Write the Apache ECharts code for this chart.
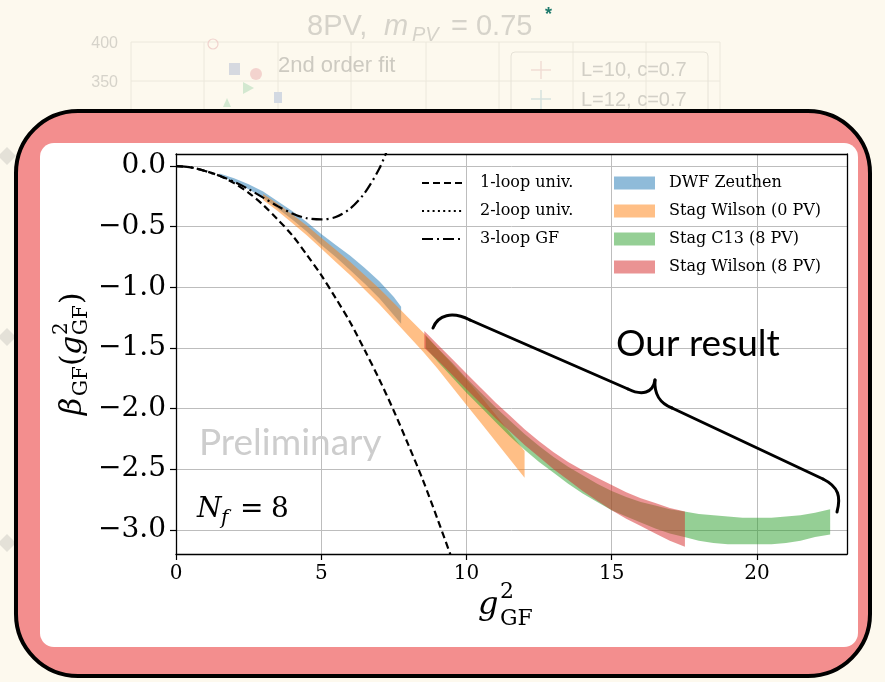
<!DOCTYPE html>
<html><head><meta charset="utf-8">
<script src="https://cdn.jsdelivr.net/npm/echarts@6/dist/echarts.min.js"></script>
<style>html,body{margin:0;padding:0;background:#fdf9ee;}#c{width:885px;height:682px;}</style>
</head><body><div id="c"></div>
<script>
// ---- tick labels ----
const xTicks = [0, 5, 10, 15, 20];
const yTicks = [-3, -2.5, -2, -1.5, -1, -0.5, 0];

// ---- perturbative curves ----
const oneLoopG = [0, 0.5, 1, 1.5, 2, 2.5, 3, 3.5, 4, 4.5, 5, 5.5, 6, 6.5, 7, 7.5, 8, 8.5, 9, 9.5];
const oneLoopB = [0, -0.01, -0.04, -0.08, -0.14, -0.22, -0.32, -0.44, -0.57, -0.73, -0.90, -1.09, -1.29, -1.52, -1.76, -2.02, -2.30, -2.59, -2.91, -3.24];
const twoLoopG = [];
const twoLoopB = [];
const threeLoopG = [0, 0.5, 1, 1.5, 2, 2.5, 3, 3.5, 4, 4.5, 5, 5.5, 6, 6.5, 7, 7.3];
const threeLoopB = [0, -0.01, -0.04, -0.08, -0.13, -0.19, -0.26, -0.33, -0.39, -0.43, -0.44, -0.42, -0.35, -0.22, -0.02, 0.15];

// ---- bands ----
const dwfG  = [1.5, 2, 2.5, 3, 3.5, 4, 4.5, 5, 5.5, 6, 6.5, 7, 7.5, 7.75];
const dwfHi = [-0.06, -0.10, -0.15, -0.21, -0.29, -0.37, -0.46, -0.56, -0.65, -0.74, -0.84, -0.95, -1.08, -1.16];
const dwfLo = [-0.08, -0.13, -0.19, -0.26, -0.35, -0.44, -0.54, -0.65, -0.75, -0.86, -0.97, -1.09, -1.23, -1.30];

const sw0G  = [3, 3.5, 4, 4.5, 5, 5.5, 6, 6.5, 7, 7.5, 8, 8.5, 9, 9.5, 10, 10.5, 11, 11.5, 12];
const sw0Hi = [-0.23, -0.31, -0.40, -0.49, -0.59, -0.69, -0.79, -0.90, -1.01, -1.13, -1.25, -1.37, -1.50, -1.63, -1.76, -1.90, -2.05, -2.20, -2.35];
const sw0Lo = [-0.28, -0.37, -0.47, -0.57, -0.68, -0.79, -0.90, -1.02, -1.14, -1.27, -1.40, -1.53, -1.67, -1.82, -1.97, -2.12, -2.27, -2.42, -2.57];

const c13G  = [8.6, 9, 9.5, 10, 10.5, 11, 11.5, 12, 12.5, 13, 13.5, 14, 14.5, 15, 15.5, 16, 16.5, 17, 17.5, 18, 18.5, 19, 19.5, 20, 20.5, 21, 21.5, 22, 22.52];
const c13Hi = [-1.40, -1.50, -1.62, -1.75, -1.87, -1.99, -2.10, -2.21, -2.31, -2.40, -2.48, -2.55, -2.62, -2.68, -2.73, -2.77, -2.80, -2.83, -2.85, -2.87, -2.88, -2.89, -2.90, -2.90, -2.90, -2.89, -2.88, -2.86, -2.83];
const c13Lo = [-1.50, -1.61, -1.74, -1.87, -1.99, -2.11, -2.23, -2.34, -2.44, -2.53, -2.62, -2.70, -2.77, -2.84, -2.89, -2.94, -2.99, -3.03, -3.06, -3.09, -3.11, -3.12, -3.12, -3.12, -3.12, -3.11, -3.09, -3.06, -3.04];

const sw8G  = [8.55, 9, 9.5, 10, 10.5, 11, 11.5, 12, 12.5, 13, 13.5, 14, 14.5, 15, 15.5, 16, 16.5, 17, 17.52];
const sw8Hi = [-1.36, -1.47, -1.59, -1.71, -1.83, -1.95, -2.06, -2.17, -2.27, -2.36, -2.44, -2.51, -2.57, -2.63, -2.69, -2.74, -2.78, -2.82, -2.85];
const sw8Lo = [-1.50, -1.60, -1.72, -1.84, -1.96, -2.08, -2.19, -2.30, -2.40, -2.50, -2.59, -2.68, -2.76, -2.84, -2.91, -2.97, -3.03, -3.09, -3.14];

const serif = '"DejaVu Serif", "Liberation Serif", serif';

function lineSeries(name, g, b, dash, z) {
  return {
    type: 'line', name: name, data: g.map((x, i) => [x, b[i]]),
    symbol: 'none', showSymbol: false, smooth: 0.3, clip: true, z: z,
    lineStyle: {color: '#000', width: 2.2, type: dash},
    itemStyle: {color: '#000'}
  };
}
function bandSeries(name, g, lo, hi, color, z) {
  return {
    type: 'custom', name: name, z: z, clip: true,
    data: g.map((x, i) => [x, lo[i], hi[i]]),
    encode: {x: 0, y: [1, 2]},
    itemStyle: {color: color},
    renderItem: function (params, api) {
      if (params.dataIndex !== 0) return null;
      const upper = g.map((x, i) => api.coord([x, hi[i]]));
      const lower = g.map((x, i) => api.coord([x, lo[i]])).reverse();
      return {type: 'polygon', shape: {points: upper.concat(lower)}, style: {fill: color}};
    }
  };
}

function txt(x, y, text, font, fill, align, extra) {
  const el = {type: 'text', x: x, y: y, z: 20,
    style: {text: text, font: font, fill: fill, align: align || 'left', verticalAlign: 'middle',
            textAlign: align || 'left', textVerticalAlign: 'middle'}};
  return Object.assign(el, extra || {});
}

const faint = '#d6d3ca';
const bgEls = [];
[131, 204, 278, 351, 426, 499, 573, 646, 720].forEach(function (x) {
  bgEls.push({type: 'line', z: -30, shape: {x1: x, y1: 42, x2: x, y2: 112}, style: {stroke: '#ece8dc', lineWidth: 1}});
});
[42, 81].forEach(function (y) {
  bgEls.push({type: 'line', z: -30, shape: {x1: 131, y1: y, x2: 720, y2: y}, style: {stroke: '#ece8dc', lineWidth: 1}});
});
bgEls.push(
  {type: 'rect', z: -29, shape: {x: 511, y: 52, width: 197, height: 80, r: 4}, style: {fill: 'rgba(0,0,0,0)', stroke: '#e6e2d7', lineWidth: 1}},
  {type: 'rect', z: -29, shape: {x: 229, y: 63, width: 11, height: 12}, style: {fill: '#d6d9e0'}},
  {type: 'circle', z: -29, shape: {cx: 256, cy: 74, r: 6}, style: {fill: '#f3d3ce'}},
  {type: 'polygon', z: -29, shape: {points: [[243, 82], [254, 88], [243, 94]]}, style: {fill: '#d3e8d0'}},
  {type: 'rect', z: -29, shape: {x: 274, y: 92, width: 8, height: 11}, style: {fill: '#d3d9e2'}},
  {type: 'polygon', z: -29, shape: {points: [[227, 98], [231, 107], [223, 107]]}, style: {fill: '#d3e8d0'}},
  {type: 'circle', z: -29, shape: {cx: 213, cy: 44, r: 5}, style: {fill: 'rgba(0,0,0,0)', stroke: '#f0d2cd', lineWidth: 1.2}},
  {type: 'line', z: -29, shape: {x1: 531, y1: 70, x2: 551, y2: 70}, style: {stroke: '#f0dcd5', lineWidth: 1.5}},
  {type: 'line', z: -29, shape: {x1: 541, y1: 61, x2: 541, y2: 79}, style: {stroke: '#f0dcd5', lineWidth: 1.5}},
  {type: 'line', z: -29, shape: {x1: 531, y1: 99, x2: 551, y2: 99}, style: {stroke: '#d6e2de', lineWidth: 1.5}},
  {type: 'line', z: -29, shape: {x1: 541, y1: 90, x2: 541, y2: 110}, style: {stroke: '#d6e2de', lineWidth: 1.5}},
  txt(118, 44, '400', '16px "Liberation Sans", Arial, sans-serif', faint, 'right', {z: -29}),
  txt(118, 83, '350', '16px "Liberation Sans", Arial, sans-serif', faint, 'right', {z: -29}),
  txt(278, 66, '2nd order fit', '22px "Liberation Sans", Arial, sans-serif', '#cdcac1', 'left', {z: -29}),
  txt(581, 70, 'L=10, c=0.7', '20px "Liberation Sans", Arial, sans-serif', '#d2cfc6', 'left', {z: -29}),
  txt(581, 100, 'L=12, c=0.7', '20px "Liberation Sans", Arial, sans-serif', '#d2cfc6', 'left', {z: -29}),
  txt(307, 27, '8PV,', '29px "Liberation Sans", Arial, sans-serif', faint, 'left', {z: -29}),
  txt(384, 27, 'm', 'italic 29px "Liberation Sans", Arial, sans-serif', faint, 'left', {z: -29}),
  txt(412, 35, 'PV', 'italic 20px "Liberation Sans", Arial, sans-serif', faint, 'left', {z: -29}),
  txt(451, 27, '= 0.75', '29px "Liberation Sans", Arial, sans-serif', faint, 'left', {z: -29}),
  txt(545, 15, '*', 'bold 18px "Liberation Sans", Arial, sans-serif', '#1f7a6c', 'left', {z: -29})
);
[156, 337, 543].forEach(function (cy) {
  bgEls.push({type: 'polygon', z: -29, shape: {points: [[7, cy - 9], [16, cy], [7, cy + 9], [-2, cy]]}, style: {fill: '#e4e1d8'}});
});
// slide box
bgEls.push(
  {type: 'rect', z: -20, shape: {x: 16, y: 111, width: 854, height: 565, r: 62}, style: {fill: '#f38e8e', stroke: '#000', lineWidth: 4}},
  {type: 'rect', z: -19, shape: {x: 40, y: 143, width: 818, height: 504, r: 14}, style: {fill: '#ffffff'}}
);

const annot = [
  // y-axis title (rotated)
  {type: 'group', x: 73, y: 353, rotation: Math.PI / 2, z: 20, children: [
    txt(-62, 0, 'β', 'italic 30px ' + serif, '#000'),
    txt(-43, 9, 'GF', '20px ' + serif, '#000'),
    txt(-13, 0, '(', '30px ' + serif, '#000'),
    txt(-2, 0, 'g', 'italic 30px ' + serif, '#000'),
    txt(18, -11, '2', '20px ' + serif, '#000'),
    txt(18, 9, 'GF', '20px ' + serif, '#000'),
    txt(49, 0, ')', '30px ' + serif, '#000')
  ]},
  // x-axis title
  txt(478, 606, 'g', 'italic 32px ' + serif, '#000'),
  txt(500, 592, '2', '22px ' + serif, '#000'),
  txt(500, 619, 'GF', '22px ' + serif, '#000'),
  // N_f = 8
  txt(197, 510, 'N', 'italic 28px ' + serif, '#000'),
  txt(221, 519, 'f', 'italic 20px ' + serif, '#000'),
  txt(240, 510, '=', '28px ' + serif, '#000'),
  txt(271, 510, '8', '28px ' + serif, '#000'),
  // Preliminary watermark
  txt(199, 443, 'Preliminary', '37px Lato, "Open Sans", sans-serif', '#cdcdcd'),
  // Our result + brace
  txt(616, 344, 'Our result', '37px Lato, "Open Sans", sans-serif', '#000'),
  {type: 'bezierCurve', z: 20, shape: {x1: 433, y1: 328, cpx1: 438, cpy1: 315, cpx2: 452, cpy2: 311, x2: 470, y2: 320}, style: {stroke: '#000', lineWidth: 3, fill: null, lineCap: 'round'}},
  {type: 'line', z: 20, shape: {x1: 470, y1: 320, x2: 628, y2: 389}, style: {stroke: '#000', lineWidth: 3, lineCap: 'round'}},
  {type: 'bezierCurve', z: 20, shape: {x1: 628, y1: 389, cpx1: 642, cpy1: 396, cpx2: 653, cpy2: 393, x2: 655, y2: 380}, style: {stroke: '#000', lineWidth: 3, fill: null, lineCap: 'round'}},
  {type: 'bezierCurve', z: 20, shape: {x1: 655, y1: 380, cpx1: 654, cpy1: 395, cpx2: 660, cpy2: 403, x2: 672, y2: 408}, style: {stroke: '#000', lineWidth: 3, fill: null, lineCap: 'round'}},
  {type: 'line', z: 20, shape: {x1: 672, y1: 408, x2: 823, y2: 479}, style: {stroke: '#000', lineWidth: 3, lineCap: 'round'}},
  {type: 'bezierCurve', z: 20, shape: {x1: 823, y1: 479, cpx1: 839, cpy1: 487, cpx2: 841, cpy2: 497, x2: 837, y2: 512}, style: {stroke: '#000', lineWidth: 3, fill: null, lineCap: 'round'}}
];

const chart = echarts.init(document.getElementById('c'));
const yFmt = function (v) {
  if (Math.abs(v) < 1e-9) return '0.0';
  return (v < 0 ? '\u2212' : '') + Math.abs(v).toFixed(1);
};
const option = {
  backgroundColor: '#fdf9ee',
  animation: false,
  grid: {left: 176, top: 154, width: 671, height: 400, containLabel: false},
  xAxis: [{
    type: 'value', min: 0, max: 23.1, splitNumber: 5,
    axisLine: {show: true, onZero: false, lineStyle: {color: '#000', width: 1.3}},
    axisTick: {show: true, inside: false, length: 6, customValues: xTicks, lineStyle: {color: '#000', width: 1.2}},
    axisLabel: {customValues: xTicks, margin: 10, fontFamily: serif, fontSize: 20, color: '#000',
                formatter: function (v) { return String(v); }},
    splitLine: {show: true, lineStyle: {color: '#bdbdbd', width: 1}}
  }, {
    type: 'value', position: 'top', min: 0, max: 23.1, z: 5,
    axisLine: {show: true, onZero: false, lineStyle: {color: '#000', width: 1.3}},
    axisTick: {show: false}, axisLabel: {show: false}, splitLine: {show: false}
  }],
  yAxis: [{
    type: 'value', min: -3.2, max: 0.1, splitNumber: 5,
    axisLine: {show: true, onZero: false, lineStyle: {color: '#000', width: 1.3}},
    axisTick: {show: true, inside: false, length: 6, customValues: yTicks, lineStyle: {color: '#000', width: 1.2}},
    axisLabel: {customValues: yTicks, margin: 10, fontFamily: serif, fontSize: 28, color: '#000', formatter: yFmt},
    splitLine: {show: true, lineStyle: {color: '#bdbdbd', width: 1}}
  }, {
    type: 'value', position: 'right', min: -3.2, max: 0.1, z: 5,
    axisLine: {show: true, onZero: false, lineStyle: {color: '#000', width: 1.3}},
    axisTick: {show: false}, axisLabel: {show: false}, splitLine: {show: false}
  }],
  legend: [{
    data: ['1-loop univ.', '2-loop univ.', '3-loop GF'],
    orient: 'vertical', left: 421, top: 174, itemWidth: 42, itemHeight: 14, itemGap: 10,
    selectedMode: false, padding: 0,
    itemStyle: {opacity: 0},
    textStyle: {fontFamily: serif, fontSize: 16, color: '#000', lineHeight: 18, padding: [0, 0, 0, 11]}
  }, {
    data: [
      {name: 'DWF Zeuthen', icon: 'rect'},
      {name: 'Stag Wilson (0 PV)', icon: 'rect'},
      {name: 'Stag C13 (8 PV)', icon: 'rect'},
      {name: 'Stag Wilson (8 PV)', icon: 'rect'}
    ],
    orient: 'vertical', left: 614, top: 174, itemWidth: 41, itemHeight: 13, itemGap: 10,
    selectedMode: false, padding: 0,
    textStyle: {fontFamily: serif, fontSize: 16, color: '#000', lineHeight: 18, padding: [0, 0, 0, 9]}
  }],
  series: [
    bandSeries('DWF Zeuthen', dwfG, dwfLo, dwfHi, 'rgba(31,119,180,0.5)', 2),
    bandSeries('Stag Wilson (0 PV)', sw0G, sw0Lo, sw0Hi, 'rgba(255,127,14,0.5)', 2),
    bandSeries('Stag C13 (8 PV)', c13G, c13Lo, c13Hi, 'rgba(44,160,44,0.5)', 2),
    bandSeries('Stag Wilson (8 PV)', sw8G, sw8Lo, sw8Hi, 'rgba(214,39,40,0.5)', 2),
    lineSeries('1-loop univ.', oneLoopG, oneLoopB, [7, 4], 4),
    lineSeries('2-loop univ.', twoLoopG, twoLoopB, [2, 3.3], 4),
    lineSeries('3-loop GF', threeLoopG, threeLoopB, [11, 4, 2, 4], 4)
  ],
  graphic: {elements: bgEls.concat(annot)}
};
chart.setOption(option);
</script></body></html>
